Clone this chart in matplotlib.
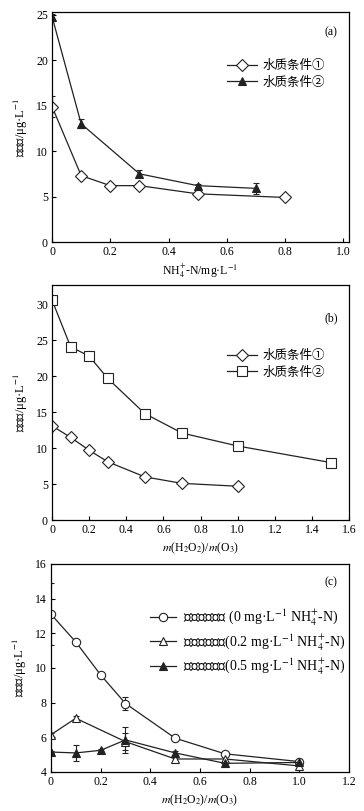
# -*- coding: utf-8 -*-
import matplotlib
matplotlib.use("Agg")
import matplotlib.pyplot as plt

plt.rcParams["font.family"] = ["Liberation Serif", "Noto Sans CJK SC", "DejaVu Sans"]
plt.rcParams["mathtext.fontset"] = "stix"
plt.rcParams["font.size"] = 8.5
plt.rcParams["xtick.direction"] = "in"
plt.rcParams["ytick.direction"] = "in"
plt.rcParams["axes.linewidth"] = 0.9

# (a) bromate vs NH4+-N
a_x1 = [0, 0.1, 0.2, 0.3, 0.5, 0.8]
a_y1 = [14.9, 7.3, 6.2, 6.2, 5.3, 4.9]
a_e1 = [1.2, 0.2, 0.15, 0.15, 0.15, 0.3]
a_x2 = [0, 0.1, 0.3, 0.5, 0.7]
a_y2 = [24.8, 13.0, 7.5, 6.2, 5.9]
a_e2 = [0.3, 0.5, 0.4, 0.2, 0.6]

# (b) bromate vs m(H2O2)/m(O3)
b_x1 = [0, 0.1, 0.2, 0.3, 0.5, 0.7, 1.0]
b_y1 = [13.1, 11.5, 9.7, 8.1, 6.0, 5.1, 4.7]
b_x2 = [0, 0.1, 0.2, 0.3, 0.5, 0.7, 1.0, 1.5]
b_y2 = [30.6, 24.1, 22.8, 19.7, 14.8, 12.1, 10.3, 8.0]

# (c) ozonated effluent
c_x1 = [0, 0.1, 0.2, 0.3, 0.5, 0.7, 1.0]
c_y1 = [13.1, 11.5, 9.6, 7.95, 5.95, 5.05, 4.6]
c_e1 = [1.8, 0.12, 0.08, 0.35, 0.15, 0.08, 0.05]
c_x2 = [0, 0.1, 0.3, 0.5, 0.7, 1.0]
c_y2 = [6.15, 7.1, 5.75, 4.75, 4.75, 4.35]
c_e2 = [0.1, 0.15, 0.5, 0.1, 0.1, 0.1]
c_x3 = [0, 0.1, 0.2, 0.3, 0.5, 0.7, 1.0]
c_y3 = [5.15, 5.1, 5.25, 5.85, 5.1, 4.5, 4.55]
c_e3 = [0.05, 0.45, 0.05, 0.75, 0.1, 0.05, 0.05]

lab1 = "水质条件①"
lab2 = "水质条件②"
ylab = "溴酸盐/μg·L$^{-1}$"
c_labs = ["臭氧氧化出水 (0 mg·L$^{-1}$ NH$_4^{+}$-N)",
          "臭氧氧化出水(0.2 mg·L$^{-1}$ NH$_4^{+}$-N)",
          "臭氧氧化出水(0.5 mg·L$^{-1}$ NH$_4^{+}$-N)"]

col = "#222222"
kw = dict(color=col, lw=0.9, ms=6, capsize=2.2, elinewidth=0.8, mew=0.8)
lkw = dict(loc="upper left", frameon=False, handletextpad=0.5)

fig = plt.figure(figsize=(3.64, 8.11), dpi=100)
ax1 = fig.add_axes([0.143, 0.7016, 0.816, 0.2836])
ax2 = fig.add_axes([0.143, 0.3588, 0.816, 0.2898])
ax3 = fig.add_axes([0.140, 0.0481, 0.819, 0.2565])

# panel a
e1 = ax1.errorbar(a_x1, a_y1, yerr=a_e1, marker="D", mfc="white", **kw)
e2 = ax1.errorbar(a_x2, a_y2, yerr=a_e2, marker="^", mfc=col, **kw)
ax1.set_xlim(0, 1.02)
ax1.set_ylim(0, 25.3)
ax1.set_xticks([0, 0.2, 0.4, 0.6, 0.8, 1.0])
ax1.set_xticklabels(["0", "0.2", "0.4", "0.6", "0.8", "1.0"])
ax1.set_yticks([0, 5, 10, 15, 20, 25])
ax1.set_xlabel("NH$_4^{+}$-N/mg·L$^{-1}$", labelpad=3)
ax1.set_ylabel(ylab, fontsize=9)
ax1.text(0.94, 0.91, "(a)", transform=ax1.transAxes, ha="center", va="center")
ax1.legend([e1[0], e2[0]], [lab1, lab2], bbox_to_anchor=(0.55, 0.84),
           handlelength=2.4, labelspacing=0.35, fontsize=9, **lkw)

# panel b
ax2.plot(b_x1, b_y1, marker="D", mfc="white", label=lab1, color=col, lw=0.9, ms=6, mew=0.8)
ax2.plot(b_x2, b_y2, marker="s", mfc="white", label=lab2, color=col, lw=0.9, ms=6.5, mew=0.8)
ax2.set_xlim(0, 1.6)
ax2.set_ylim(0, 32.7)
ax2.set_xticks([0, 0.2, 0.4, 0.6, 0.8, 1.0, 1.2, 1.4, 1.6])
ax2.set_xticklabels(["0", "0.2", "0.4", "0.6", "0.8", "1.0", "1.2", "1.4", "1.6"])
ax2.set_yticks([0, 5, 10, 15, 20, 25, 30])
ax2.set_xlabel("$m$(H$_2$O$_2$)/$m$(O$_3$)", labelpad=3)
ax2.set_ylabel(ylab, fontsize=9)
ax2.text(0.94, 0.86, "(b)", transform=ax2.transAxes, ha="center", va="center")
ax2.legend(bbox_to_anchor=(0.55, 0.77), handlelength=2.4, labelspacing=0.35,
           fontsize=9, **lkw)

# panel c
h1 = ax3.errorbar(c_x1, c_y1, yerr=c_e1, marker="o", mfc="white", **kw)
h2 = ax3.errorbar(c_x2, c_y2, yerr=c_e2, marker="^", mfc="white", **kw)
h3 = ax3.errorbar(c_x3, c_y3, yerr=c_e3, marker="^", mfc=col, **kw)
ax3.set_xlim(0, 1.2)
ax3.set_ylim(4, 16)
ax3.set_xticks([0, 0.2, 0.4, 0.6, 0.8, 1.0, 1.2])
ax3.set_xticklabels(["0", "0.2", "0.4", "0.6", "0.8", "1.0", "1.2"])
ax3.set_yticks([4, 6, 8, 10, 12, 14, 16])
ax3.set_xlabel("$m$(H$_2$O$_2$)/$m$(O$_3$)", labelpad=3)
ax3.set_ylabel(ylab, fontsize=9)
ax3.text(0.94, 0.91, "(c)", transform=ax3.transAxes, ha="center", va="center")
ax3.legend([h1[0], h2[0], h3[0]], c_labs, bbox_to_anchor=(0.29, 0.85),
           handlelength=1.9, labelspacing=0.35, fontsize=10, **lkw)

for ax in (ax1, ax2, ax3):
    ax.tick_params(length=3, width=0.8, pad=3)

fig.savefig("out.png", dpi=100)
